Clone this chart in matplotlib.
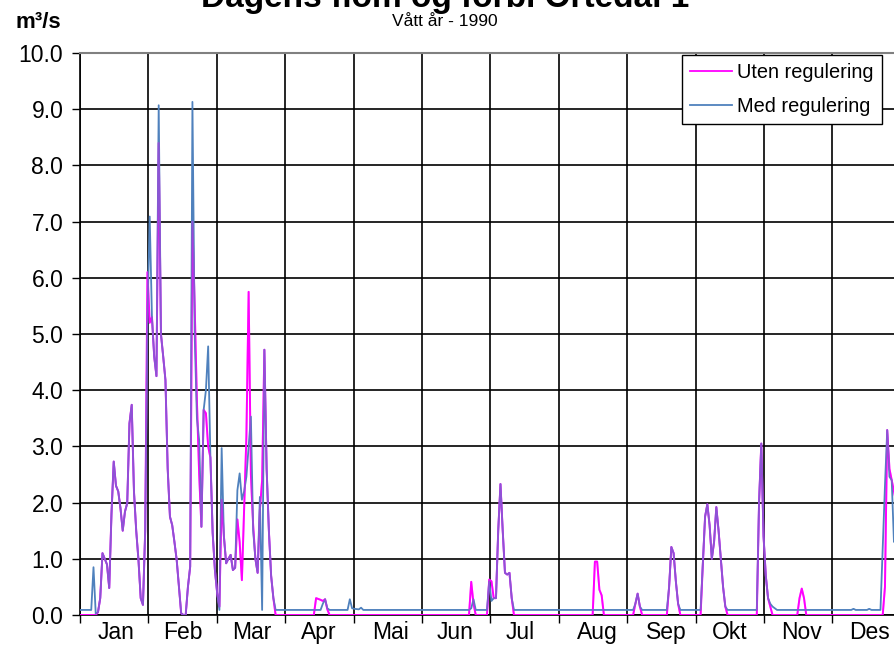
import matplotlib.pyplot as plt
from matplotlib.lines import Line2D

plt.rcParams['font.family'] = ['Liberation Sans', 'DejaVu Sans']

# daily flow, m3/s (day of year, only the days where the line turns)
day = [0, 5, 6, 7, 8, 9, 10, 11, 12, 13, 14, 15, 16, 17, 18, 19, 20, 21, 22, 23,
       24, 25, 26, 27, 28, 29, 30, 31, 32, 33, 34, 35, 36, 37, 38, 39, 40, 41, 42,
       43, 44, 45, 46, 47, 48, 49, 50, 51, 52, 53, 54, 55, 56, 57, 58, 59, 60, 61,
       62, 63, 64, 65, 66, 67, 68, 69, 70, 71, 72, 73, 74, 75, 76, 77, 78, 79, 80,
       81, 82, 83, 84, 85, 86, 87,
       104, 105, 107, 108, 109, 110, 111, 119, 120, 121, 122, 124, 125, 126,
       173, 174, 175, 176, 181, 182, 183, 184, 185, 186, 187, 188, 189, 190, 191,
       192, 193, 228, 229, 230, 231, 232, 233, 246, 247, 248, 249, 250,
       261, 262, 263, 264, 265, 266, 267, 276, 277, 278, 279, 280, 281, 282, 283,
       284, 285, 286, 287, 288, 301, 302, 303, 304, 305, 306, 307, 308, 309, 310,
       319, 320, 321, 322, 323, 343, 344, 345, 350, 351, 352,
       356, 357, 358, 359, 360, 361, 362, 363, 364]

uten = [0, 0, 0, 0, 0.05, 0.3, 1.1, 1.0, 0.9, 0.48, 1.8, 2.73, 2.3, 2.2, 1.9, 1.5, 1.84, 1.99, 3.41, 3.74,
        2.2, 1.5, 0.98, 0.3, 0.18, 1.5, 6.1, 5.2, 5.3, 4.6, 4.25, 8.4, 5.0, 4.6, 4.18, 2.6, 1.75, 1.6, 1.3,
        0.98, 0.5, 0.03, 0, 0, 0.5, 0.86, 7.0, 5.5, 3.8, 2.5, 1.57, 3.65, 3.59, 3.0, 2.8, 1.46, 0.8, 0.39,
        0.15, 2.05, 1.4, 0.92, 1.0, 1.07, 0.8, 0.84, 1.7, 1.3, 0.62, 1.9, 3.17, 5.75, 2.5, 1.6, 1.0, 0.75, 1.87,
        2.4, 4.72, 2.6, 1.5, 0.7, 0.3, 0,
        0, 0.3, 0.27, 0.25, 0.28, 0.1, 0, 0, 0, 0, 0, 0, 0, 0,
        0, 0.59, 0.2, 0, 0, 0.63, 0.6, 0.3, 0.3, 1.5, 2.33, 1.5, 0.75, 0.72, 0.75,
        0.3, 0, 0, 0.95, 0.95, 0.45, 0.35, 0, 0, 0.2, 0.38, 0.15, 0,
        0, 0.5, 1.21, 1.1, 0.6, 0.2, 0, 0, 0.9, 1.75, 1.97, 1.6, 1.0, 1.3, 1.92,
        1.5, 1.0, 0.5, 0.15, 0, 0, 2.0, 3.05, 1.4, 0.7, 0.3, 0.15, 0, 0, 0,
        0, 0.3, 0.47, 0.3, 0, 0, 0, 0, 0, 0, 0,
        0, 0, 0.5, 3.29, 2.6, 2.4, 2.2, 2.0, 1.9]

med = [0.09, 0.09, 0.85, 0.02, 0.05, 0.3, 1.1, 1.0, 0.9, 0.48, 1.8, 2.73, 2.3, 2.2, 1.9, 1.5, 1.84, 1.99, 3.41, 3.74,
       2.2, 1.5, 0.98, 0.3, 0.18, 1.5, 5.3, 7.09, 5.3, 4.6, 4.25, 9.07, 5.0, 4.6, 4.18, 2.6, 1.75, 1.6, 1.3,
       0.98, 0.5, 0.03, 0, 0, 0.5, 0.86, 9.13, 5.0, 3.5, 3.11, 1.57, 3.65, 4.0, 4.78, 2.8, 1.46, 0.8, 0.39,
       0.09, 2.97, 1.4, 0.92, 1.0, 1.07, 0.8, 0.84, 2.22, 2.52, 2.05, 2.2, 2.46, 3.0, 3.53, 1.51, 1.0, 0.75, 2.1,
       0.09, 4.72, 2.6, 1.5, 0.7, 0.3, 0.09,
       0.09, 0.09, 0.09, 0.2, 0.28, 0.12, 0.09, 0.09, 0.28, 0.12, 0.11, 0.1, 0.13, 0.09,
       0.09, 0.12, 0.28, 0.09, 0.09, 0.6, 0.25, 0.3, 0.3, 1.5, 2.33, 1.5, 0.75, 0.72, 0.75,
       0.3, 0.09, 0.09, 0.09, 0.09, 0.09, 0.09, 0.09, 0.09, 0.2, 0.38, 0.15, 0.09,
       0.09, 0.5, 1.21, 1.1, 0.6, 0.2, 0.09, 0.09, 0.9, 1.75, 1.97, 1.6, 1.0, 1.3, 1.92,
       1.5, 1.0, 0.5, 0.15, 0.09, 0.09, 2.0, 3.05, 1.4, 0.7, 0.3, 0.2, 0.15, 0.12, 0.09,
       0.09, 0.09, 0.09, 0.09, 0.09, 0.09, 0.11, 0.09, 0.09, 0.11, 0.09,
       0.09, 1.2, 2.3, 3.29, 2.46, 2.4, 1.3, 1.4, 1.5]

months = ['Jan', 'Feb', 'Mar', 'Apr', 'Mai', 'Jun', 'Jul', 'Aug', 'Sep', 'Okt', 'Nov', 'Des']
month_pos = [16.0, 45.8, 76.5, 106.3, 137.9, 166.6, 195.8, 230.3, 260.6, 289.1, 320.7, 351.3]

pink = '#FF00FF'
blue = '#4F81BD'

fig = plt.figure(figsize=(8.95, 6.45), dpi=100)
ax = fig.add_axes([80 / 895, 30 / 645, 820.7 / 895, 562 / 645])

# pink below, blue on top, then a faint pink pass so shared stretches turn purple
ax.plot(day, uten, color=pink, lw=1.4, zorder=3)
ax.plot(day, med, color=blue, lw=1.3, zorder=4)
ax.plot(day, uten, color=pink, lw=1.4, alpha=0.35, zorder=5)

ax.set_xlim(0, 365)
ax.set_ylim(0, 10)

ax.set_xticks([i * 365 / 12 for i in range(13)])
ax.set_xticklabels([])
ax.set_xticks(month_pos, minor=True)
ax.set_xticklabels(months, minor=True)
ax.tick_params(axis='x', which='major', length=6, width=1, direction='out')
ax.tick_params(axis='x', which='minor', length=0, pad=4, labelsize=16.5)

ax.set_yticks(range(11))
ax.set_yticklabels([f'{v:.1f}' for v in range(11)])
ax.tick_params(axis='y', length=6, width=1, direction='out', pad=6, labelsize=16.5)

ax.grid(True, which='major', color='black', lw=1.2)
for s in ['left', 'bottom']:
    ax.spines[s].set_color('black')
    ax.spines[s].set_linewidth(1.2)
ax.spines['top'].set_color('#808080')
ax.spines['top'].set_linewidth(1.5)
ax.spines['right'].set_visible(False)

handles = [Line2D([], [], color=pink, lw=1.3), Line2D([], [], color=blue, lw=1.3)]
leg = ax.legend(handles, ['Uten regulering', 'Med regulering'], loc='upper right',
                bbox_to_anchor=(0.977, 0.996), borderaxespad=0, fontsize=14.4,
                fancybox=False, framealpha=1, edgecolor='black',
                handlelength=2.1, handletextpad=0.25, labelspacing=0.75,
                borderpad=0.4)
leg.get_frame().set_linewidth(1.0)
leg.set_zorder(10)

fig.text(0.497, 1 - 7 / 645, 'Dagens flom og forbi Ortedal 1', ha='center',
         va='baseline', fontsize=24, weight='bold')
fig.text(0.497, 1 - 22 / 645, 'Vått år - 1990', ha='center', va='center', fontsize=12.5)
fig.text(38.5 / 895, 1 - 22 / 645, 'm³/s', ha='center', va='center', fontsize=16,
         weight='bold')

fig.savefig('out.png', dpi=100)
